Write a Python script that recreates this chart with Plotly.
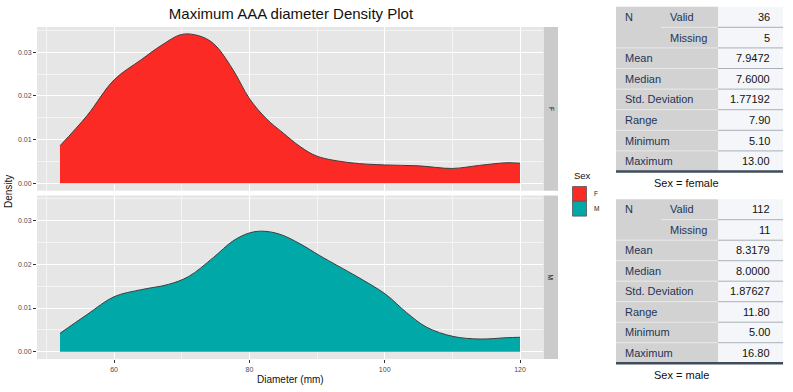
import plotly.graph_objects as go

# ---------------- data ----------------
F_x = [52, 56, 60, 64, 67, 70, 72.5, 74.7, 77.5, 80, 82.5, 85, 87.5, 90, 95, 100, 105, 110, 114, 118, 120]
F_y = [0.0086, 0.0155, 0.0237, 0.0283, 0.0316, 0.0341, 0.0338, 0.0320, 0.0262, 0.0194, 0.0148, 0.0115,
       0.0084, 0.0062, 0.0047, 0.0042, 0.0040, 0.0034, 0.0041, 0.0047, 0.0046]

M_x = [52, 56, 60, 64, 68, 71, 74.7, 77.6, 80, 82, 84.5, 87.5, 90.4, 95.9, 100.1, 103.2, 106.2,
       110.1, 114.1, 118, 120]
M_y = [0.0042, 0.0085, 0.0126, 0.0142, 0.0154, 0.0172, 0.0216, 0.0254, 0.0272, 0.0276, 0.0269, 0.0247,
       0.0220, 0.0172, 0.0132, 0.0090, 0.0056, 0.0035, 0.0029, 0.0032, 0.0033]

sex_levels = ["F", "M"]
x_ticks = [60, 80, 100, 120]
y_ticks = [0.00, 0.01, 0.02, 0.03]

stat_labels = ["Mean", "Median", "Std. Deviation", "Range", "Minimum", "Maximum"]
female_values = ["36", "5", "7.9472", "7.6000", "1.77192", "7.90", "5.10", "13.00"]
male_values = ["112", "11", "8.3179", "8.0000", "1.87627", "11.80", "5.00", "16.80"]
table_captions = ["Sex = female", "Sex = male"]

# ---------------- helpers ----------------
W, H = 793, 392
def X(px):
    return px / W
def Y(py):
    return 1 - py / H

FONT = "Liberation Sans, Arial, Helvetica, sans-serif"
COL_F = "#FB2A25"
COL_M = "#00A8A8"
OUTLINE = "#3d3d3d"

fig = go.Figure()
fig.add_trace(go.Scatter(x=F_x, y=F_y, mode="lines", fill="tozeroy", fillcolor=COL_F,
                         line=dict(color=OUTLINE, width=1, shape="spline", smoothing=1.0),
                         name="F", showlegend=False, xaxis="x", yaxis="y", hoverinfo="x+y"))
fig.add_trace(go.Scatter(x=M_x, y=M_y, mode="lines", fill="tozeroy", fillcolor=COL_M,
                         line=dict(color=OUTLINE, width=1, shape="spline", smoothing=1.0),
                         name="M", showlegend=False, xaxis="x2", yaxis="y2", hoverinfo="x+y"))

x_range = [48.6, 123.4]
y_range = [-0.0017, 0.0358]
xdom = [X(37), X(543)]
tickfont = dict(family=FONT, size=7, color="#4d4d4d")
grid = dict(showgrid=True, gridcolor="white", gridwidth=1, zeroline=False, showline=False, automargin=False)

common_x = dict(range=x_range, domain=xdom, tickmode="array", tickvals=x_ticks,
                minor=dict(dtick=10, tick0=0, showgrid=True, gridcolor="#f4f4f4", gridwidth=0.5),
                tickfont=tickfont, **grid)
common_y = dict(range=y_range, tickmode="array", tickvals=y_ticks, tickformat=".2f",
                minor=dict(dtick=0.005, tick0=0, showgrid=True, gridcolor="#f4f4f4", gridwidth=0.5),
                ticks="outside", ticklen=3, tickcolor="#333333", tickwidth=1,
                tickfont=tickfont, **grid)

fig.update_layout(
    width=W, height=H,
    margin=dict(l=0, r=0, t=0, b=0, autoexpand=False),
    paper_bgcolor="white",
    plot_bgcolor="#e6e6e6",
    font=dict(family=FONT, color="#111111"),
    title=dict(text="Maximum AAA diameter Density Plot", x=X(291), y=Y(14),
               xref="container", yref="container", xanchor="center", yanchor="middle",
               font=dict(family=FONT, size=15, color="#111111"), automargin=False),
    xaxis=dict(anchor="y", showticklabels=False, ticks="", **common_x),
    yaxis=dict(anchor="x", domain=[Y(190.7), Y(27)], **common_y),
    xaxis2=dict(anchor="y2", showticklabels=True, ticks="outside", ticklen=3,
                tickcolor="#333333", tickwidth=1, **common_x),
    yaxis2=dict(anchor="x2", domain=[Y(359.1), Y(195.4)], **common_y),
    showlegend=False,
)

shapes = []
annotations = []

# facet strips
strips = [(27, 190.7), (195.4, 359.1)]
for lvl, (t, b) in zip(sex_levels, strips):
    shapes.append(dict(type="rect", xref="paper", yref="paper", x0=X(543.5), x1=X(558), y0=Y(b), y1=Y(t),
                       fillcolor="#cbcbcb", line=dict(width=0), layer="below"))
    annotations.append(dict(text=lvl, xref="paper", yref="paper", x=X(550.8), y=Y((t + b) / 2),
                            showarrow=False, textangle=90, xanchor="center", yanchor="middle",
                            font=dict(family=FONT, size=6.5, color="#1a1a1a")))

# axis titles
annotations.append(dict(text="Density", xref="paper", yref="paper", x=X(8), y=Y(192), textangle=-90,
                        showarrow=False, xanchor="center", yanchor="middle",
                        font=dict(family=FONT, size=10, color="#111111")))
annotations.append(dict(text="Diameter (mm)", xref="paper", yref="paper", x=X(290), y=Y(379),
                        showarrow=False, xanchor="center", yanchor="middle",
                        font=dict(family=FONT, size=10, color="#111111")))

# legend
annotations.append(dict(text="Sex", xref="paper", yref="paper", x=X(572), y=Y(175), showarrow=False,
                        xanchor="left", yanchor="middle", font=dict(family=FONT, size=9.5, color="#111111")))
for i, (lvl, col) in enumerate(zip(sex_levels, [COL_F, COL_M])):
    top = 186.5 + i * 14.8
    shapes.append(dict(type="rect", xref="paper", yref="paper", x0=X(572.5), x1=X(586.5),
                       y0=Y(top + 14.8), y1=Y(top), fillcolor=col, line=dict(color="#555555", width=0.8)))
    annotations.append(dict(text=lvl, xref="paper", yref="paper", x=X(592), y=Y(top + 7.4), showarrow=False,
                            xanchor="left", yanchor="middle", font=dict(family=FONT, size=6.5, color="#1a1a1a")))

# statistics tables
LBL = "#1f3556"
GREY = "#d2d2d2"
VALBG = "#f4f6f9"
tL, tM, tG, tR = 616, 661, 718, 783

def add_table(top, rh, values, caption, cap_y):
    n = 8
    bottom = top + n * rh
    shapes.append(dict(type="rect", xref="paper", yref="paper", x0=X(tL), x1=X(tG), y0=Y(bottom), y1=Y(top),
                       fillcolor=GREY, line=dict(width=0)))
    shapes.append(dict(type="rect", xref="paper", yref="paper", x0=X(tG), x1=X(tR), y0=Y(bottom), y1=Y(top),
                       fillcolor=VALBG, line=dict(width=0)))
    for r in range(1, n):
        yy = Y(top + r * rh)
        xs = tM if r == 1 else tL
        shapes.append(dict(type="line", xref="paper", yref="paper", x0=X(xs), x1=X(tG), y0=yy, y1=yy,
                           line=dict(color="#e9e9e9", width=1)))
        shapes.append(dict(type="line", xref="paper", yref="paper", x0=X(tG), x1=X(tR), y0=yy, y1=yy,
                           line=dict(color="#a9b0b8", width=1)))
    shapes.append(dict(type="line", xref="paper", yref="paper", x0=X(tL), x1=X(tR), y0=Y(bottom), y1=Y(bottom),
                       line=dict(color="#3f4c5c", width=2.5)))
    row_labels = [("N", "Valid"), ("", "Missing")] + [(s, "") for s in stat_labels]
    for r, ((a, b), v) in enumerate(zip(row_labels, values)):
        yc = Y(top + (r + 0.5) * rh)
        if a:
            annotations.append(dict(text=a, xref="paper", yref="paper", x=X(623), y=yc, showarrow=False,
                                    xanchor="left", yanchor="middle", font=dict(family=FONT, size=11, color=LBL)))
        if b:
            annotations.append(dict(text=b, xref="paper", yref="paper", x=X(668), y=yc, showarrow=False,
                                    xanchor="left", yanchor="middle", font=dict(family=FONT, size=11, color=LBL)))
        annotations.append(dict(text=v, xref="paper", yref="paper", x=X(772), y=yc, showarrow=False,
                                xanchor="right", yanchor="middle", font=dict(family=FONT, size=11, color="#111111")))
    annotations.append(dict(text=caption, xref="paper", yref="paper", x=X(652), y=Y(cap_y), showarrow=False,
                            xanchor="left", yanchor="middle", font=dict(family=FONT, size=11, color="#111111")))

add_table(6.7, 20.6, female_values, table_captions[0], 183.5)
add_table(199.2, 20.5, male_values, table_captions[1], 375)

fig.update_layout(shapes=shapes, annotations=annotations)
fig.write_html("out.html",
               config={"displayModeBar": False},
               post_script="document.body.style.margin='0';document.body.style.overflow='hidden';")
